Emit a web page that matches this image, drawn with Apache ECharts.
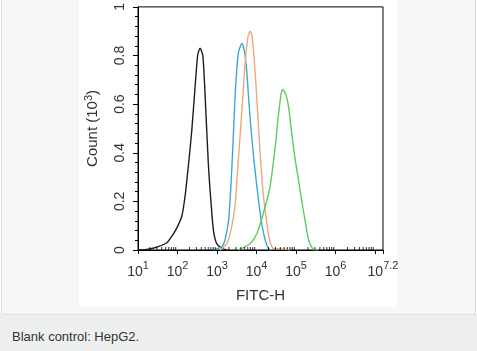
<!DOCTYPE html>
<html><head><meta charset="utf-8">
<script src="https://cdn.jsdelivr.net/npm/echarts@6/dist/echarts.min.js"></script>
<style>
html,body{margin:0;padding:0;width:477px;height:351px;overflow:hidden;background:#fff;font-family:"Liberation Sans",Arial,sans-serif;}
#box{position:absolute;left:1px;top:-1px;width:473px;height:314px;background:#f6f7f7;border:1px solid #dedfdf;}
#panel{position:absolute;left:79px;top:0;width:318px;height:307px;background:#fff;}
#cap{position:absolute;left:0;top:315px;width:477px;height:36px;background:#eef0f0;}
#capt{position:absolute;left:12px;top:329px;font-size:13px;color:#333;white-space:nowrap;}
#chart{position:absolute;left:0;top:0;width:477px;height:351px;}
</style></head>
<body>
<div id="box"></div><div id="panel"></div><div id="cap"></div>
<div id="capt">Blank control: HepG2.</div>
<div id="chart"></div>
<script>
// x values are log10(FITC-H); y values are Count (10^3)
const blackX = [1.0,1.26,1.51,1.73,1.85,1.98,2.11,2.19,2.28,2.36,2.44,2.51,2.57,2.64,2.70,2.78,2.85,2.91,2.99,3.12,3.25];
const blackY = [0,0.003,0.014,0.03,0.055,0.09,0.14,0.22,0.355,0.49,0.66,0.80,0.83,0.80,0.63,0.355,0.19,0.08,0.027,0.007,0];
const blueX = [2.90,3.12,3.20,3.29,3.35,3.41,3.47,3.54,3.63,3.69,3.75,3.81,3.88,3.96,4.05,4.13,4.22,4.30,4.38];
const blueY = [0,0.014,0.04,0.12,0.26,0.46,0.67,0.81,0.85,0.82,0.74,0.60,0.46,0.33,0.205,0.11,0.04,0.007,0];
const orangeX = [3.08,3.25,3.37,3.46,3.52,3.58,3.64,3.71,3.78,3.84,3.89,3.96,4.03,4.09,4.17,4.26,4.34,4.43,4.59,4.85];
const orangeY = [0,0.027,0.095,0.19,0.33,0.46,0.60,0.765,0.875,0.90,0.875,0.74,0.56,0.40,0.23,0.11,0.034,0.007,0.005,0];
const greenX = [3.54,3.84,4.01,4.17,4.34,4.47,4.55,4.61,4.64,4.66,4.75,4.81,4.89,4.97,5.06,5.14,5.23,5.32,5.44,5.56];
const greenY = [0,0.027,0.068,0.15,0.26,0.42,0.55,0.63,0.655,0.66,0.635,0.59,0.48,0.38,0.29,0.205,0.12,0.04,0.003,0];
const xMin = 1, xMax = 7.2;
const hiddenXLabels = [7];
const minorMultipliers = [2,3,4,5,6,7,8,9];
const minorDecades = [1,2,3,4,5,6];

function pairs(xs, ys){ return xs.map((x,i)=>[x, ys[i]]); }
const minorTicks = [];
minorDecades.forEach(d => minorMultipliers.forEach(m => { const v = d + Math.log10(m); if (v <= xMax) minorTicks.push([v, 0]); }));

const chart = echarts.init(document.getElementById('chart'), null, {renderer:'canvas'});
const txt = '#333';
const ff = 'Liberation Sans';
function lineSeries(name, data, color){
  return {name, type:'line', data, smooth:0.25, showSymbol:false, silent:true,
    lineStyle:{color, width:1.4}, z:3};
}
chart.setOption({
  animation:false,
  backgroundColor:'transparent',
  grid:{left:138, right:94, top:6, bottom:101, show:true, borderColor:'#000', borderWidth:1, backgroundColor:'transparent'},
  xAxis:{type:'value', min:xMin, max:xMax, interval:1,
    axisLine:{lineStyle:{color:'#000', width:1}},
    axisTick:{show:true, length:4, lineStyle:{color:'#000'}},
    splitLine:{show:false},
    axisLabel:{margin:10, color:txt, fontFamily:ff, fontSize:14,
      formatter:v => hiddenXLabels.includes(Math.round(v*10)/10) ? '' : '{b|10}{s|' + (Math.round(v*10)/10) + '}',
      rich:{b:{fontSize:14, color:txt, fontFamily:ff, verticalAlign:'bottom'},
            s:{fontSize:11, color:txt, fontFamily:ff, verticalAlign:'top', padding:[0,0,8,0]}}},
    name:'FITC-H', nameLocation:'middle', nameGap:38,
    nameTextStyle:{color:txt, fontSize:15, fontFamily:ff}},
  yAxis:{type:'value', min:0, max:1, interval:0.2,
    axisLine:{show:true, lineStyle:{color:'#000', width:1}},
    axisTick:{show:true, length:5, lineStyle:{color:'#000'}},
    minorTick:{show:true, splitNumber:5, length:3, lineStyle:{color:'#000'}},
    splitLine:{show:false},
    axisLabel:{rotate:90, margin:11, color:txt, fontFamily:ff, fontSize:14},
    name:'{b|Count (10}{s|3}{b|)}', nameLocation:'middle', nameGap:36, nameRotate:90,
    nameTextStyle:{rich:{b:{fontSize:15, color:txt, fontFamily:ff},
      s:{fontSize:11, color:txt, fontFamily:ff, padding:[0,0,8,0]}}}},
  series:[
    {type:'scatter', data:minorTicks, symbol:'rect', symbolSize:[1,3], symbolOffset:[0,-1.5],
     itemStyle:{color:'#000'}, silent:true, clip:false, z:4},
    lineSeries('black', pairs(blackX, blackY), '#1c1c1c'),
    lineSeries('blue', pairs(blueX, blueY), '#3ba7d6'),
    lineSeries('orange', pairs(orangeX, orangeY), '#f0a77a'),
    lineSeries('green', pairs(greenX, greenY), '#5fcb5f')
  ]
});
</script>
</body></html>
